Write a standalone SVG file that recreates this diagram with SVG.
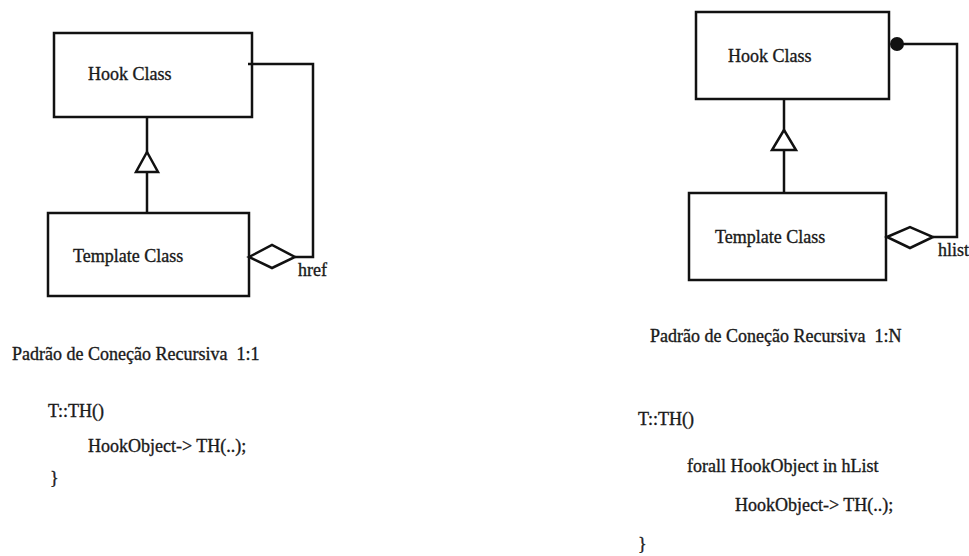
<svg xmlns="http://www.w3.org/2000/svg" width="969" height="556" viewBox="0 0 969 556">
<style>
.box{fill:none;stroke:#111;stroke-width:2.5}
.ln{fill:none;stroke:#111;stroke-width:2.5}
.tri{fill:#fff;stroke:#111;stroke-width:2.5;stroke-linejoin:miter}
.dia{fill:#fff;stroke:#111;stroke-width:2.5;stroke-linejoin:miter}
text{font-family:"Liberation Serif","Times New Roman",serif;font-size:18px;fill:#1a1a1a;stroke:#1a1a1a;stroke-width:0.35}
</style>
<rect width="969" height="556" fill="#fff"/>
<g id="connectors">
<line class="ln" x1="147" y1="117" x2="147" y2="213"/>
<polygon class="tri" points="147,152 136,172 158,172"/>
<polyline class="ln" points="248,64 313,64 313,257 295,257"/>
<polygon class="dia" points="249,257 272,245 295,257 272,268"/>
<line class="ln" x1="784" y1="99" x2="784" y2="193"/>
<polygon class="tri" points="784,130 772,150 796,150"/>
<polyline class="ln" points="897,44 957,44 957,237 933,237"/>
<circle cx="897" cy="44" r="7" fill="#111"/>
<polygon class="dia" points="887,237 910,227 933,237 910,248"/>
</g>
<g id="hook-left">
<rect class="box" x="54" y="33" width="198" height="84"/>
<text x="88" y="80">Hook Class</text>
</g>
<g id="template-left">
<rect class="box" x="48" y="213" width="201" height="83"/>
<text x="73" y="262">Template Class</text>
</g>
<text x="298" y="276">href</text>
<g id="hook-right">
<rect class="box" x="696" y="12" width="193" height="87"/>
<text x="728" y="62">Hook Class</text>
</g>
<g id="template-right">
<rect class="box" x="689" y="193" width="197" height="87"/>
<text x="715" y="243">Template Class</text>
</g>
<text x="938" y="256">hlist</text>
<g id="code-left">
<text x="12" y="360" xml:space="preserve">Padrão de Coneção Recursiva  1:1</text>
<text x="48" y="417">T::TH()</text>
<text x="88" y="452">HookObject-&gt; TH(..);</text>
<text x="50" y="484">}</text>
</g>
<g id="code-right">
<text x="650" y="342" xml:space="preserve">Padrão de Coneção Recursiva  1:N</text>
<text x="638" y="425">T::TH()</text>
<text x="687" y="472">forall HookObject in hList</text>
<text x="735" y="511">HookObject-&gt; TH(..);</text>
<text x="638" y="550">}</text>
</g>
</svg>
